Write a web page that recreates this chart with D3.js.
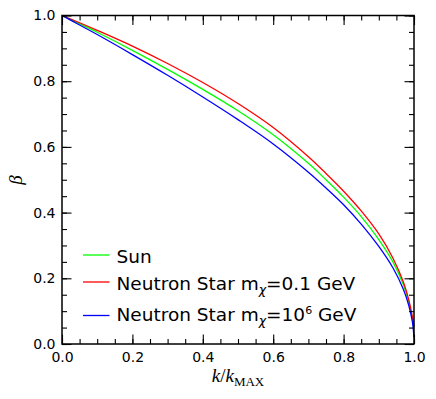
<!doctype html>
<html>

<head>
  <meta charset="utf-8">
  <title>beta vs k/kmax</title>
  <style>
    body {
      margin: 0;
      background: #fff;
    }

    #chart text {
      font-family: "DejaVu Sans", sans-serif;
    }

    .tick text {
      font-size: 14px;
      fill: #000;
    }

    .tick line {
      stroke: #000;
      stroke-width: 1.1;
    }
  </style>
</head>

<body>
  <div id="chart"></div>
  <script src="https://cdn.jsdelivr.net/npm/d3@7"></script>
  <script>
    // values
    const kRatio = [0, 0.05, 0.1, 0.2, 0.3, 0.4, 0.5, 0.6, 0.7, 0.75, 0.8, 0.85, 0.9, 0.94, 0.97, 0.985, 0.995, 1.0];
    const betaSun = [1.0, 0.975, 0.949, 0.894, 0.836, 0.775, 0.710, 0.637, 0.550, 0.500, 0.447, 0.388, 0.318, 0.250, 0.180, 0.130, 0.080, 0.050];
    const betaNsLight = [1.0, 0.978, 0.955, 0.907, 0.854, 0.796, 0.732, 0.659, 0.570, 0.519, 0.465, 0.405, 0.335, 0.262, 0.188, 0.135, 0.085, 0.055];
    const betaNsHeavy = [1.0, 0.971, 0.942, 0.881, 0.818, 0.752, 0.683, 0.609, 0.523, 0.475, 0.424, 0.365, 0.297, 0.232, 0.166, 0.118, 0.070, 0.020];
    const majorTicks = [0, 0.2, 0.4, 0.6, 0.8, 1.0];
    const minorTicks = d3.range(0, 1.0001, 0.05);

    const series = [
      { name: 'sun', values: betaSun, color: '#00ff00' },
      { name: 'nsLight', values: betaNsLight, color: '#ff0000' },
      { name: 'nsHeavy', values: betaNsHeavy, color: '#0000ff' }
    ];

    const width = 436;
    const height = 399;
    const plotL = 62, plotR = 414, plotT = 15.5, plotB = 344;

    const svg = d3.select('#chart').append('svg')
      .attr('width', width).attr('height', height);

    const x = d3.scaleLinear().domain([0, 1]).range([plotL, plotR]);
    const y = d3.scaleLinear().domain([0, 1]).range([plotB, plotT]);

    // curves
    const line = d3.line()
      .x((d, i) => x(kRatio[i]))
      .y(d => y(d))
      .curve(d3.curveCatmullRom.alpha(0.5));

    svg.selectAll('path.curve')
      .data(series)
      .enter().append('path')
      .attr('class', 'curve')
      .attr('d', d => line(d.values))
      .attr('fill', 'none')
      .attr('stroke', d => d.color)
      .attr('stroke-width', 1.3);

    // ticks, all pointing inward
    const fmt = d3.format('.1f');
    const addAxis = (axis, tx, ty, labels) => {
      const g = svg.append('g').attr('transform', `translate(${tx},${ty})`).call(axis);
      g.select('.domain').remove();
      if (!labels) g.selectAll('text').remove();
      return g;
    };

    addAxis(d3.axisBottom(x).tickValues(minorTicks).tickSize(-5).tickSizeOuter(0), 0, plotB, false);
    addAxis(d3.axisTop(x).tickValues(minorTicks).tickSize(-5).tickSizeOuter(0), 0, plotT, false);
    addAxis(d3.axisLeft(y).tickValues(minorTicks).tickSize(-5).tickSizeOuter(0), plotL, 0, false);
    addAxis(d3.axisRight(y).tickValues(minorTicks).tickSize(-5).tickSizeOuter(0), plotR, 0, false);

    addAxis(d3.axisBottom(x).tickValues(majorTicks).tickSize(-9.5).tickSizeOuter(0)
      .tickPadding(8.5).tickFormat(fmt), 0, plotB, true);
    addAxis(d3.axisTop(x).tickValues(majorTicks).tickSize(-9.5).tickSizeOuter(0), 0, plotT, false);
    addAxis(d3.axisLeft(y).tickValues(majorTicks).tickSize(-9.5).tickSizeOuter(0)
      .tickPadding(6.5).tickFormat(fmt), plotL, 0, true);
    addAxis(d3.axisRight(y).tickValues(majorTicks).tickSize(-9.5).tickSizeOuter(0), plotR, 0, false);

    // frame
    svg.append('rect')
      .attr('x', plotL).attr('y', plotT)
      .attr('width', plotR - plotL).attr('height', plotB - plotT)
      .attr('fill', 'none').attr('stroke', '#000').attr('stroke-width', 1.5);

    // axis titles
    const xTitle = svg.append('text')
      .attr('x', (plotL + plotR) / 2).attr('y', 381.5)
      .attr('text-anchor', 'middle')
      .style('font-family', '"Liberation Serif", serif')
      .style('font-size', '19px');
    xTitle.append('tspan').style('font-style', 'italic').text('k');
    xTitle.append('tspan').text('/');
    xTitle.append('tspan').style('font-style', 'italic').text('k');
    xTitle.append('tspan').attr('dy', 4).style('font-size', '13px').text('MAX');

    svg.append('text')
      .attr('transform', 'translate(22,180) rotate(-90)')
      .attr('text-anchor', 'middle')
      .style('font-family', '"Liberation Serif", serif')
      .style('font-style', 'italic')
      .style('font-size', '19px')
      .text('β');

    // legend
    const legendRows = [
      { color: '#00ff00', lineY: 255, baseY: 263.3, parts: [['Sun', 0]] },
      { color: '#ff0000', lineY: 282, baseY: 290, parts: [['Neutron Star m', 0], ['χ', 4, 'sub'], ['=0.1 GeV', -4]] },
      { color: '#0000ff', lineY: 315.5, baseY: 320.7, parts: [['Neutron Star m', 0], ['χ', 4, 'sub'], ['=10', -4], ['6', -7, 'sup'], [' GeV', 7]] }
    ];

    const legend = svg.append('g');
    legendRows.forEach(row => {
      legend.append('line')
        .attr('x1', 83).attr('x2', 109.5)
        .attr('y1', row.lineY).attr('y2', row.lineY)
        .attr('stroke', row.color).attr('stroke-width', 1.3);
      const t = legend.append('text')
        .attr('x', 116.5).attr('y', row.baseY)
        .style('font-size', '18.5px');
      row.parts.forEach(p => {
        const s = t.append('tspan').attr('dy', p[1]).text(p[0]);
        if (p[2] === 'sub') s.style('font-size', '12.5px').style('font-style', 'italic');
        if (p[2] === 'sup') s.style('font-size', '11px');
      });
    });
  </script>
</body>

</html>
